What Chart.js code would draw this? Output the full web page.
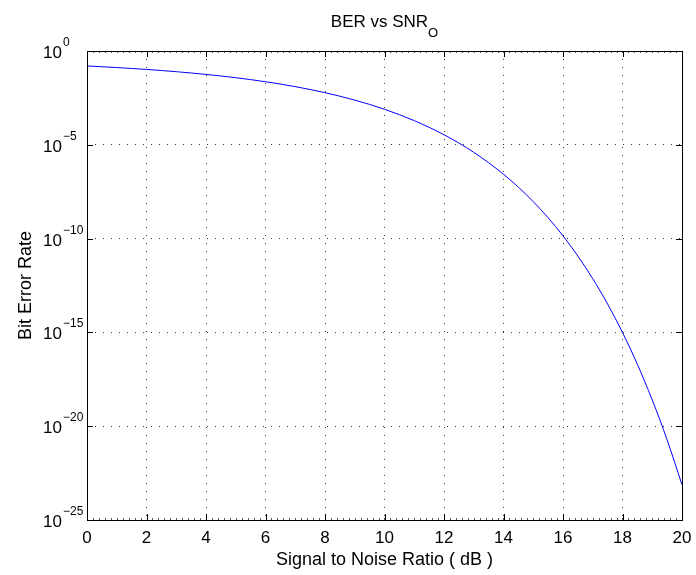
<!DOCTYPE html>
<html>
<head>
<meta charset="utf-8">
<script src="https://cdn.jsdelivr.net/npm/chart.js@4/dist/chart.umd.min.js"></script>
<style>
    html, body { margin: 0; padding: 0; background: #fff; }
    #wrap { width: 696px; height: 575px; }
</style>
</head>
<body>
<div id="wrap"><canvas id="ber-chart" width="696" height="575"></canvas></div>
<script>
// SNR in dB along the x axis
const snrDb = [0, 0.5, 1, 1.5, 2, 2.5, 3, 3.5, 4, 4.5, 5, 5.5, 6, 6.5, 7, 7.5, 8, 8.5, 9, 9.5,
    10, 10.5, 11, 11.5, 12, 12.5, 13, 13.5, 14, 14.5, 15, 15.5, 16, 16.5, 17, 17.5, 18, 18.5, 19, 19.5, 20];
// bit error rate at each SNR
const ber = [0.159, 0.145, 0.131, 0.117, 0.104, 0.0912, 0.0789, 0.0673, 0.0565, 0.0466,
    0.0377, 0.0298, 0.0230, 0.0173, 0.0126, 0.00886, 0.00600, 0.00390, 0.00241, 0.00142,
    7.83e-4, 4.04e-4, 1.94e-4, 8.55e-5, 3.43e-5, 1.24e-5, 3.97e-6, 1.11e-6, 2.69e-7, 5.52e-8,
    9.36e-9, 1.29e-9, 1.40e-10, 1.17e-11, 7.23e-13, 3.22e-14, 9.84e-16, 1.99e-17, 2.50e-19, 1.86e-21,
    7.62e-24];
// tick labels
const xTicks = [0, 2, 4, 6, 8, 10, 12, 14, 16, 18, 20];
const yTickExps = [0, -5, -10, -15, -20, -25];

const fontFamily = "'Liberation Sans', Arial, Helvetica, sans-serif";

// frame, inward ticks and all the text, matlab style
const axesDecor = {
    id: "axesDecor",
    afterDraw(chart) {
        const ctx = chart.ctx;
        const area = chart.chartArea;
        const xs = chart.scales.x;
        const ys = chart.scales.y;
        ctx.save();

        // minor ticks on x
        ctx.strokeStyle = "#555";
        ctx.lineWidth = 1;
        ctx.beginPath();
        for (let v = 0; v <= 20.001; v += 0.2) {
            let px = Math.round(xs.getPixelForValue(v)) + 0.5;
            ctx.moveTo(px, area.top);
            ctx.lineTo(px, area.top + 2);
            ctx.moveTo(px, area.bottom);
            ctx.lineTo(px, area.bottom - 2);
        }
        ctx.stroke();

        // major ticks
        ctx.strokeStyle = "#000";
        ctx.beginPath();
        for (let v of xTicks) {
            let px = Math.round(xs.getPixelForValue(v)) + 0.5;
            ctx.moveTo(px, area.top);
            ctx.lineTo(px, area.top + 6);
            ctx.moveTo(px, area.bottom);
            ctx.lineTo(px, area.bottom - 6);
        }
        for (let e of yTickExps) {
            let py = Math.round(ys.getPixelForValue(Math.pow(10, e))) + 0.5;
            ctx.moveTo(area.left, py);
            ctx.lineTo(area.left + 6, py);
            ctx.moveTo(area.right, py);
            ctx.lineTo(area.right - 6, py);
        }
        ctx.stroke();

        // box
        ctx.lineWidth = 1;
        ctx.strokeRect(Math.round(area.left) + 0.5, Math.round(area.top) + 0.5,
            Math.round(area.right - area.left), Math.round(area.bottom - area.top));

        ctx.fillStyle = "#000";

        // x tick labels
        ctx.font = "17px " + fontFamily;
        ctx.textAlign = "center";
        ctx.textBaseline = "alphabetic";
        for (let v of xTicks) {
            ctx.fillText(String(v), xs.getPixelForValue(v), area.bottom + 23);
        }

        // y tick labels as 10^n
        for (let e of yTickExps) {
            let py = ys.getPixelForValue(Math.pow(10, e));
            ctx.font = "17px " + fontFamily;
            ctx.textAlign = "right";
            ctx.fillText("10", 62, py + 7);
            ctx.font = "12px " + fontFamily;
            ctx.textAlign = "left";
            ctx.fillText(e === 0 ? "0" : "\u2212" + Math.abs(e), 63, py - 5);
        }

        // axis titles
        let cx = (area.left + area.right) / 2;
        let cy = (area.top + area.bottom) / 2;
        ctx.font = "18px " + fontFamily;
        ctx.textAlign = "center";
        ctx.fillText("Signal to Noise Ratio ( dB )", cx, area.bottom + 45);

        ctx.save();
        ctx.translate(31, cy);
        ctx.rotate(-Math.PI / 2);
        ctx.fillText("Bit Error Rate", 0, 0);
        ctx.restore();

        // title with subscript
        const main = "BER vs SNR";
        const sub = "O";
        ctx.font = "17px " + fontFamily;
        let wMain = ctx.measureText(main).width;
        ctx.font = "13px " + fontFamily;
        let wSub = ctx.measureText(sub).width;
        let startX = cx - (wMain + wSub) / 2;
        ctx.textAlign = "left";
        ctx.font = "17px " + fontFamily;
        ctx.fillText(main, startX, 27);
        ctx.font = "13px " + fontFamily;
        ctx.fillText(sub, startX + wMain, 37);

        ctx.restore();
    }
};

var berChart = new Chart("ber-chart", {
    type: "line",
    data: {
        datasets: [
            {
                label: "BER",
                data: snrDb.map((x, i) => ({ x: x, y: ber[i] })),
                borderColor: "#0000ff",
                borderWidth: 1,
                pointRadius: 0,
                fill: false,
                cubicInterpolationMode: "monotone"
            }
        ]
    },
    options: {
        responsive: false,
        animation: false,
        maintainAspectRatio: false,
        layout: {
            padding: { left: 87, top: 51, right: 14, bottom: 55 }
        },
        plugins: {
            legend: { display: false },
            tooltip: { enabled: false },
            title: { display: false }
        },
        scales: {
            x: {
                type: "linear",
                min: 0,
                max: 20,
                afterBuildTicks: (scale) => {
                    scale.ticks = xTicks.map(v => ({ value: v }));
                },
                ticks: { display: false },
                grid: { color: "rgba(0,0,0,0.8)", lineWidth: 1, drawTicks: false },
                border: { display: false, dash: [1, 7] }
            },
            y: {
                type: "logarithmic",
                min: 1e-25,
                max: 1,
                afterBuildTicks: (scale) => {
                    scale.ticks = yTickExps.map(e => ({ value: Math.pow(10, e) }));
                },
                ticks: { display: false },
                grid: { color: "rgba(0,0,0,0.8)", lineWidth: 1, drawTicks: false },
                border: { display: false, dash: [1, 7] }
            }
        }
    },
    plugins: [axesDecor]
});
</script>
</body>
</html>
